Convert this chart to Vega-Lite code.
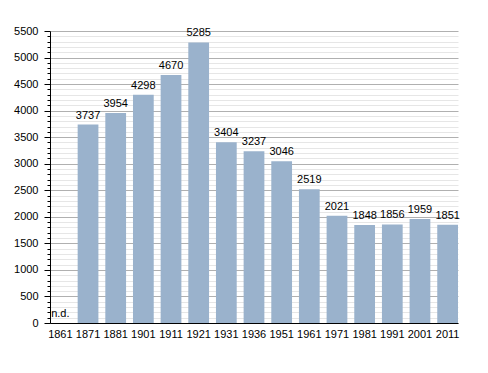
{
  "$schema": "https://vega.github.io/schema/vega-lite/v6.json",
  "width": 408,
  "height": 292,
  "autosize": {"type": "none"},
  "padding": {"left": 50, "top": 31, "right": 30, "bottom": 50},
  "background": "white",
  "config": {
    "view": {"stroke": null},
    "font": "Liberation Sans",
    "axis": {"labelFont": "Liberation Sans", "labelFontSize": 11, "labelColor": "#000", "titleFontSize": 11}
  },
  "data": {
    "values": [
      {"year": "1861", "pop": null, "label": "n.d."},
      {"year": "1871", "pop": 3737, "label": "3737"},
      {"year": "1881", "pop": 3954, "label": "3954"},
      {"year": "1901", "pop": 4298, "label": "4298"},
      {"year": "1911", "pop": 4670, "label": "4670"},
      {"year": "1921", "pop": 5285, "label": "5285"},
      {"year": "1931", "pop": 3404, "label": "3404"},
      {"year": "1936", "pop": 3237, "label": "3237"},
      {"year": "1951", "pop": 3046, "label": "3046"},
      {"year": "1961", "pop": 2519, "label": "2519"},
      {"year": "1971", "pop": 2021, "label": "2021"},
      {"year": "1981", "pop": 1848, "label": "1848"},
      {"year": "1991", "pop": 1856, "label": "1856"},
      {"year": "2001", "pop": 1959, "label": "1959"},
      {"year": "2011", "pop": 1851, "label": "1851"}
    ]
  },
  "encoding": {
    "x": {
      "field": "year", "type": "nominal", "sort": null,
      "scale": {"domain": ["1861","1871","1881","1901","1911","1921","1931","1936","1951","1961","1971","1981","1991","2001","2011"], "paddingInner": 0.25, "paddingOuter": 0},
      "axis": {"title": null, "labelAngle": 0, "ticks": false, "labelPadding": 5, "domainColor": "#000", "grid": false}
    },
    "y": {
      "field": "pop", "type": "quantitative",
      "scale": {"domain": [0, 5500], "nice": false},
      "axis": {
        "title": null,
        "format": "d",
        "values": [0,100,200,300,400,500,600,700,800,900,1000,1100,1200,1300,1400,1500,1600,1700,1800,1900,2000,2100,2200,2300,2400,2500,2600,2700,2800,2900,3000,3100,3200,3300,3400,3500,3600,3700,3800,3900,4000,4100,4200,4300,4400,4500,4600,4700,4800,4900,5000,5100,5200,5300,5400,5500],
        "labelExpr": "datum.value % 500 === 0 ? datum.label : ''",
        "labelPadding": 6,
        "domainColor": "#000",
        "tickColor": "#000",
        "tickSize": {"condition": {"test": "datum.value % 500 === 0", "value": 6}, "value": 3},
        "grid": true,
        "gridColor": {"condition": {"test": "datum.value % 500 === 0", "value": "#b0b0b0"}, "value": "#e6e6e6"},
        "gridWidth": 1
      }
    }
  },
  "layer": [
    {
      "mark": {"type": "bar", "color": "#9ab2cc"}
    },
    {
      "mark": {"type": "text", "baseline": "bottom", "dy": -4, "fontSize": 11, "font": "Liberation Sans", "color": "#000", "invalid": "show"},
      "encoding": {
        "text": {"field": "label"}
      }
    }
  ]
}
